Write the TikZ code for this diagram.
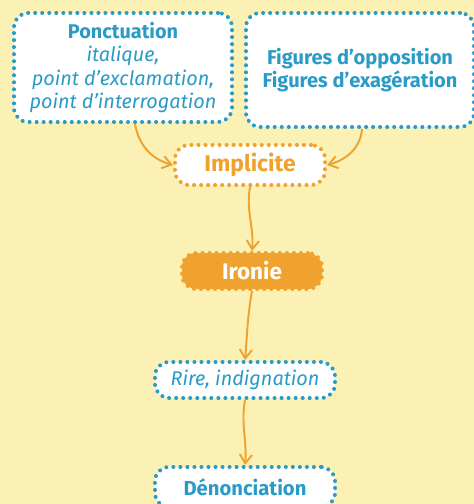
\documentclass[tikz,border=0pt]{standalone}
\usepackage{fontspec}
\setmainfont{Fira Sans}
\usetikzlibrary{arrows.meta}
\definecolor{fond}{HTML}{FBF1B4}
\definecolor{bleu}{HTML}{2A9BC6}
\definecolor{orange}{HTML}{F0A22E}
\begin{document}
\begin{tikzpicture}[
        boite/.style={draw=bleu, fill=white, rounded corners=8pt, line width=2.3pt,
                      dash pattern=on 0pt off 4pt, line cap=round, align=center,
                      text=bleu, inner sep=2pt},
        boiteor/.style={boite, draw=orange, text=orange},
        pleine/.style={boite, draw=orange, fill=orange, text=white},
        fl/.style={-{Straight Barb[length=5pt, width=7pt]}, orange, line width=1.1pt}
    ]
    \fill[fond] (0,0) rectangle (9.48,-10.08);
    \clip (0,0) rectangle (9.48,-10.08);
    % les deux boites du haut
    \node[boite, minimum width=4.36cm, minimum height=2.18cm, font=\fontsize{11.3}{13.2}\selectfont]
        (ponct) at (2.46,-1.35)
        {\textbf{Ponctuation}\\ \textit{italique,}\\ \textit{point d'exclamation,}\\ \textit{point d'interrogation}};
    \node[boite, minimum width=4.56cm, minimum height=2.28cm, font=\bfseries\fontsize{11.4}{13.5}\selectfont]
        (fig) at (7.2,-1.4)
        {Figures d'opposition\\ Figures d'exagération};

    % la chaine
    \node[boiteor, minimum width=3.0cm, minimum height=0.8cm, font=\bfseries\fontsize{13}{15}\selectfont]
        (impl) at (5.0,-3.3) {Implicite};
    \node[pleine, minimum width=2.8cm, minimum height=0.72cm, font=\bfseries\fontsize{12.8}{15}\selectfont]
        (iron) at (5.04,-5.42) {Ironie};
    \node[boite, minimum width=3.6cm, minimum height=0.72cm, font=\itshape\fontsize{11.3}{13}\selectfont]
        (rire) at (4.9,-7.6) {Rire, indignation};
    \node[boite, minimum width=3.6cm, minimum height=0.8cm, font=\bfseries\fontsize{11.5}{13}\selectfont]
        (denon) at (4.9,-9.74) {Dénonciation};

    % fleches
    \draw[fl] (ponct.-78) to[out=-80, in=165] (impl.west);
    \draw[fl] (fig.-88) to[out=-95, in=15] (impl.east);
    \draw[fl] (impl.south) to[out=-100, in=85] (iron.north);
    \draw[fl] (iron.south) to[out=-100, in=85] (rire.north);
    \draw[fl] (rire.south) to[out=-100, in=85] (denon.north);
\end{tikzpicture}
\end{document}
